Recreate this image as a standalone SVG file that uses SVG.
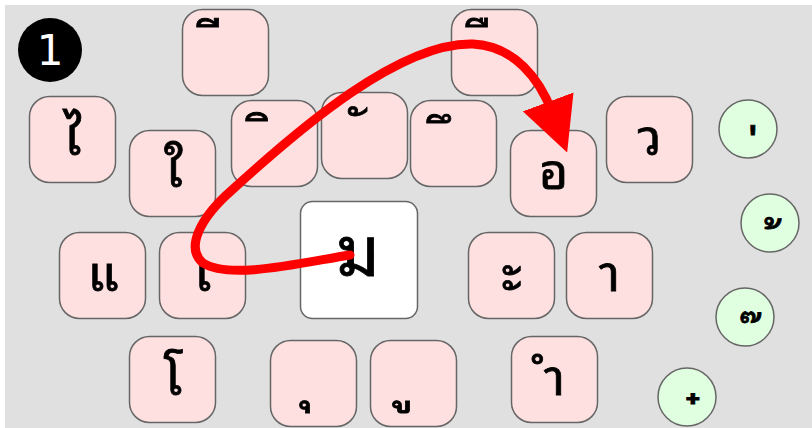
<svg xmlns="http://www.w3.org/2000/svg" width="812" height="428" viewBox="0 0 812 428">
<defs>
<style>
.bg{fill:#e0e0e0}
.key rect{fill:#ffe0e0;stroke:#666;stroke-width:1.5}
.th{font-family:"Noto Sans Thai Looped","Loma","Garuda","Tlwg Typo","Noto Serif Thai","Noto Sans Thai",sans-serif;fill:#000;text-anchor:middle;stroke:#000;stroke-width:0.8}
.key text{font-size:50px}
.tone circle{fill:#e0ffe0;stroke:#666;stroke-width:1.5}
.tone text{font-size:46px}
.main rect{fill:#fff;stroke:#666;stroke-width:1.5}
.main text{font-size:68px}
.arrow{fill:none;stroke:#f00;stroke-width:9;stroke-linecap:round}
</style>
<marker id="ah" viewBox="0 0 10 10" refX="2" refY="5" markerWidth="6" markerHeight="6" markerUnits="strokeWidth" orient="auto">
<path d="M0,0 L10,5 L0,10 z" fill="#f00"/>
</marker>
</defs>
<rect x="0" y="0" width="812" height="428" fill="#fff"/>
<rect class="bg" x="5" y="5" width="807" height="423"/>
<g id="badge"><circle cx="50" cy="50" r="32" fill="#000"/><text x="50" y="65" font-family="DejaVu Sans, sans-serif" font-size="42" fill="#fff" text-anchor="middle">1</text></g>
<g id="k-ii" class="key"><rect x="182.5" y="9.5" width="86" height="86" rx="20"/><text class="th" x="223" y="59">ี</text></g>
<g id="k-uee" class="key"><rect x="451.5" y="9.5" width="86" height="86" rx="20"/><text class="th" x="492" y="59">ื</text></g>
<g id="k-ai1" class="key"><rect x="29.5" y="96.5" width="86" height="86" rx="20"/><text class="th" x="72.5" y="155">ไ</text></g>
<g id="k-ai2" class="key"><rect x="129.5" y="130.5" width="86" height="86" rx="20"/><text class="th" x="173.5" y="187">ใ</text></g>
<g id="k-i" class="key"><rect x="231.5" y="100.5" width="86" height="86" rx="20"/><text class="th" x="272" y="153">ิ</text></g>
<g id="k-han" class="key"><rect x="321.5" y="92.5" width="86" height="86" rx="20"/><text class="th" x="367" y="148">ั</text></g>
<g id="k-ue" class="key"><rect x="410.5" y="100.5" width="86" height="86" rx="20"/><text class="th" x="453" y="155">ึ</text></g>
<g id="k-o" class="key"><rect x="510.5" y="130.5" width="86" height="86" rx="20"/><text class="th" x="553.5" y="189">อ</text></g>
<g id="k-wo" class="key"><rect x="606.5" y="96.5" width="86" height="86" rx="20"/><text class="th" x="649.5" y="155">ว</text></g>
<g id="k-ae" class="key"><rect x="59.5" y="232.5" width="86" height="86" rx="20"/><text class="th" x="103" y="291">แ</text></g>
<g id="k-e" class="key"><rect x="159.5" y="232.5" width="86" height="86" rx="20"/><text class="th" x="203" y="291">เ</text></g>
<g id="k-mo" class="main"><rect x="300.5" y="201.5" width="117" height="117" rx="12"/><text class="th" x="358" y="276">ม</text></g>
<g id="k-a" class="key"><rect x="468.5" y="232.5" width="86" height="86" rx="20"/><text class="th" x="511.5" y="291">ะ</text></g>
<g id="k-aa" class="key"><rect x="566.5" y="232.5" width="86" height="86" rx="20"/><text class="th" x="609.5" y="291">า</text></g>
<g id="k-oo" class="key"><rect x="129.5" y="336.5" width="86" height="86" rx="20"/><text class="th" x="173" y="395">โ</text></g>
<g id="k-u" class="key"><rect x="270.5" y="340.5" width="86" height="86" rx="20"/><text class="th" x="314" y="397">ุ</text></g>
<g id="k-uu" class="key"><rect x="370.5" y="340.5" width="86" height="86" rx="20"/><text class="th" x="414" y="397">ู</text></g>
<g id="k-am" class="key"><rect x="511.5" y="336.5" width="86" height="86" rx="20"/><text class="th" x="554.5" y="395">ำ</text></g>
<g id="t-ek" class="tone"><circle cx="748" cy="129" r="29"/><text class="th" x="759" y="164">่</text></g>
<g id="t-tho" class="tone"><circle cx="770" cy="223" r="29"/><text class="th" x="783" y="258">้</text></g>
<g id="t-tri" class="tone"><circle cx="745" cy="317" r="29"/><text class="th" x="761" y="352">๊</text></g>
<g id="t-chat" class="tone"><circle cx="687" cy="397" r="29"/><text class="th" x="699" y="433">๋</text></g>
<g id="connectors">
<path class="arrow" marker-end="url(#ah)" d="M350,255 C300,263 230,280 203,263 C185,248 200,218 232,190 C300,128 400,42 473,44 C515,46 540,80 552,112"/>
</g>
</svg>
